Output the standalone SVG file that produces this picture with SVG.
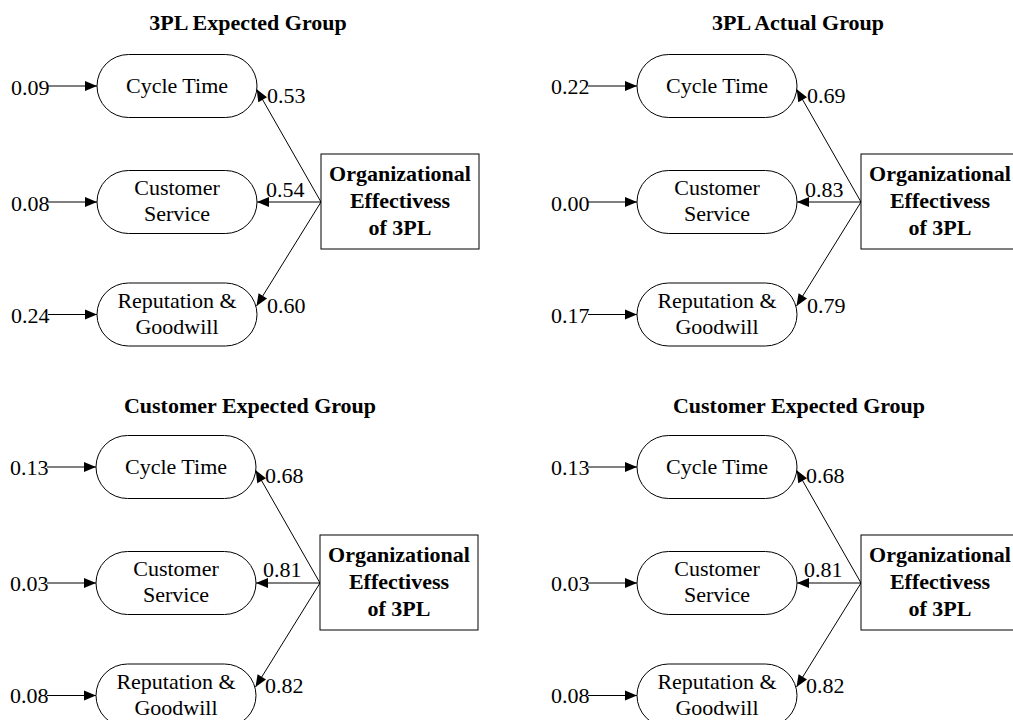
<svg xmlns="http://www.w3.org/2000/svg" width="1013" height="720" viewBox="0 0 1013 720">
  <style>
    text { font-family: "Liberation Serif", "Times New Roman", serif; font-size: 22px; fill: #000; }
    .title { font-weight: bold; text-anchor: middle; }
    .bold { font-weight: bold; text-anchor: middle; }
    .mid { text-anchor: middle; }
    .pill { fill: #fff; stroke: #000; stroke-width: 1; }
    .box { fill: #fff; stroke: #000; stroke-width: 1; }
    .edge { stroke: #000; stroke-width: 1; fill: none; marker-end: url(#head); }
  </style>
  <defs>
    <marker id="head" markerUnits="userSpaceOnUse" markerWidth="12" markerHeight="10" refX="12" refY="5" orient="auto" overflow="visible">
      <path d="M0,0 L12,5 L0,10 Z" fill="#000"/>
    </marker>
  </defs>
  <rect width="1013" height="720" fill="#fff"/>

  <!-- group headings -->
  <g id="titles">
    <text class="title" x="248" y="30">3PL Expected Group</text>
    <text class="title" x="798" y="30">3PL Actual Group</text>
    <text class="title" x="250" y="413">Customer Expected Group</text>
    <text class="title" x="799" y="413">Customer Expected Group</text>
  </g>

  <!-- ===== 3PL Expected Group ===== -->
  <g id="panel-3pl-expected">
    <g id="connectors-3pl-expected">
      <line class="edge" x1="48" y1="86" x2="97" y2="86"/>
      <line class="edge" x1="48" y1="202" x2="97" y2="202"/>
      <line class="edge" x1="48" y1="314.5" x2="97" y2="314.5"/>
      <line class="edge" x1="321" y1="202" x2="256.7" y2="89.3"/>
      <line class="edge" x1="321" y1="202" x2="257" y2="202"/>
      <line class="edge" x1="321" y1="202" x2="256.5" y2="306"/>
      <text x="11" y="94.5">0.09</text>
      <text x="11" y="210.5">0.08</text>
      <text x="11" y="323">0.24</text>
      <text x="267" y="103">0.53</text>
      <text x="266" y="197">0.54</text>
      <text x="267" y="313">0.60</text>
    </g>
    <g id="e-cycle-time">
      <rect class="pill" x="97" y="54.5" width="160" height="63" rx="31.5"/>
      <text class="mid" x="177" y="93">Cycle Time</text>
    </g>
    <g id="e-customer-service">
      <rect class="pill" x="97" y="170.5" width="160" height="63" rx="31.5"/>
      <text class="mid" x="177" y="195">Customer</text>
      <text class="mid" x="177" y="221">Service</text>
    </g>
    <g id="e-reputation">
      <rect class="pill" x="97" y="283" width="160" height="63" rx="31.5"/>
      <text class="mid" x="177" y="307.5">Reputation &amp;</text>
      <text class="mid" x="177" y="333.5">Goodwill</text>
    </g>
    <g id="e-effectiveness">
      <rect class="box" x="321" y="154" width="158" height="95"/>
      <text class="bold" x="400" y="181">Organizational</text>
      <text class="bold" x="400" y="208">Effectivess</text>
      <text class="bold" x="400" y="235">of 3PL</text>
    </g>
  </g>

  <!-- ===== 3PL Actual Group ===== -->
  <g id="panel-3pl-actual" transform="translate(540,0)">
    <g id="connectors-3pl-actual">
      <line class="edge" x1="48" y1="86" x2="97" y2="86"/>
      <line class="edge" x1="48" y1="202" x2="97" y2="202"/>
      <line class="edge" x1="48" y1="314.5" x2="97" y2="314.5"/>
      <line class="edge" x1="321" y1="202" x2="256.7" y2="89.3"/>
      <line class="edge" x1="321" y1="202" x2="257" y2="202"/>
      <line class="edge" x1="321" y1="202" x2="256.5" y2="306"/>
      <text x="11" y="94">0.22</text>
      <text x="11" y="210.5">0.00</text>
      <text x="11" y="323">0.17</text>
      <text x="267" y="103">0.69</text>
      <text x="265" y="197">0.83</text>
      <text x="267" y="313">0.79</text>
    </g>
    <g id="a-cycle-time">
      <rect class="pill" x="97" y="54.5" width="160" height="63" rx="31.5"/>
      <text class="mid" x="177" y="93">Cycle Time</text>
    </g>
    <g id="a-customer-service">
      <rect class="pill" x="97" y="170.5" width="160" height="63" rx="31.5"/>
      <text class="mid" x="177" y="195">Customer</text>
      <text class="mid" x="177" y="221">Service</text>
    </g>
    <g id="a-reputation">
      <rect class="pill" x="97" y="283" width="160" height="63" rx="31.5"/>
      <text class="mid" x="177" y="307.5">Reputation &amp;</text>
      <text class="mid" x="177" y="333.5">Goodwill</text>
    </g>
    <g id="a-effectiveness">
      <rect class="box" x="321" y="154" width="158" height="95"/>
      <text class="bold" x="400" y="181">Organizational</text>
      <text class="bold" x="400" y="208">Effectivess</text>
      <text class="bold" x="400" y="235">of 3PL</text>
    </g>
  </g>

  <!-- ===== Customer Expected Group (left) ===== -->
  <g id="panel-customer-left" transform="translate(-1,381)">
    <g id="connectors-customer-left">
      <line class="edge" x1="48" y1="86" x2="97" y2="86"/>
      <line class="edge" x1="48" y1="202" x2="97" y2="202"/>
      <line class="edge" x1="48" y1="314.5" x2="97" y2="314.5"/>
      <line class="edge" x1="321" y1="202" x2="256.7" y2="89.3"/>
      <line class="edge" x1="321" y1="202" x2="257" y2="202"/>
      <line class="edge" x1="321" y1="202" x2="256.5" y2="306"/>
      <text x="11" y="94">0.13</text>
      <text x="11" y="209.5">0.03</text>
      <text x="11" y="322">0.08</text>
      <text x="266" y="102">0.68</text>
      <text x="264" y="196">0.81</text>
      <text x="266" y="312">0.82</text>
    </g>
    <g id="c1-cycle-time">
      <rect class="pill" x="97" y="54.5" width="160" height="63" rx="31.5"/>
      <text class="mid" x="177" y="93">Cycle Time</text>
    </g>
    <g id="c1-customer-service">
      <rect class="pill" x="97" y="170.5" width="160" height="63" rx="31.5"/>
      <text class="mid" x="177" y="195">Customer</text>
      <text class="mid" x="177" y="221">Service</text>
    </g>
    <g id="c1-reputation">
      <rect class="pill" x="97" y="283" width="160" height="63" rx="31.5"/>
      <text class="mid" x="177" y="307.5">Reputation &amp;</text>
      <text class="mid" x="177" y="333.5">Goodwill</text>
    </g>
    <g id="c1-effectiveness">
      <rect class="box" x="321" y="154" width="158" height="95"/>
      <text class="bold" x="400" y="181">Organizational</text>
      <text class="bold" x="400" y="208">Effectivess</text>
      <text class="bold" x="400" y="235">of 3PL</text>
    </g>
  </g>

  <!-- ===== Customer Expected Group (right) ===== -->
  <g id="panel-customer-right" transform="translate(540,381)">
    <g id="connectors-customer-right">
      <line class="edge" x1="48" y1="86" x2="97" y2="86"/>
      <line class="edge" x1="48" y1="202" x2="97" y2="202"/>
      <line class="edge" x1="48" y1="314.5" x2="97" y2="314.5"/>
      <line class="edge" x1="321" y1="202" x2="256.7" y2="89.3"/>
      <line class="edge" x1="321" y1="202" x2="257" y2="202"/>
      <line class="edge" x1="321" y1="202" x2="256.5" y2="306"/>
      <text x="11" y="94">0.13</text>
      <text x="11" y="209.5">0.03</text>
      <text x="11" y="322">0.08</text>
      <text x="266" y="102">0.68</text>
      <text x="264" y="196">0.81</text>
      <text x="266" y="312">0.82</text>
    </g>
    <g id="c2-cycle-time">
      <rect class="pill" x="97" y="54.5" width="160" height="63" rx="31.5"/>
      <text class="mid" x="177" y="93">Cycle Time</text>
    </g>
    <g id="c2-customer-service">
      <rect class="pill" x="97" y="170.5" width="160" height="63" rx="31.5"/>
      <text class="mid" x="177" y="195">Customer</text>
      <text class="mid" x="177" y="221">Service</text>
    </g>
    <g id="c2-reputation">
      <rect class="pill" x="97" y="283" width="160" height="63" rx="31.5"/>
      <text class="mid" x="177" y="307.5">Reputation &amp;</text>
      <text class="mid" x="177" y="333.5">Goodwill</text>
    </g>
    <g id="c2-effectiveness">
      <rect class="box" x="321" y="154" width="158" height="95"/>
      <text class="bold" x="400" y="181">Organizational</text>
      <text class="bold" x="400" y="208">Effectivess</text>
      <text class="bold" x="400" y="235">of 3PL</text>
    </g>
  </g>
</svg>
